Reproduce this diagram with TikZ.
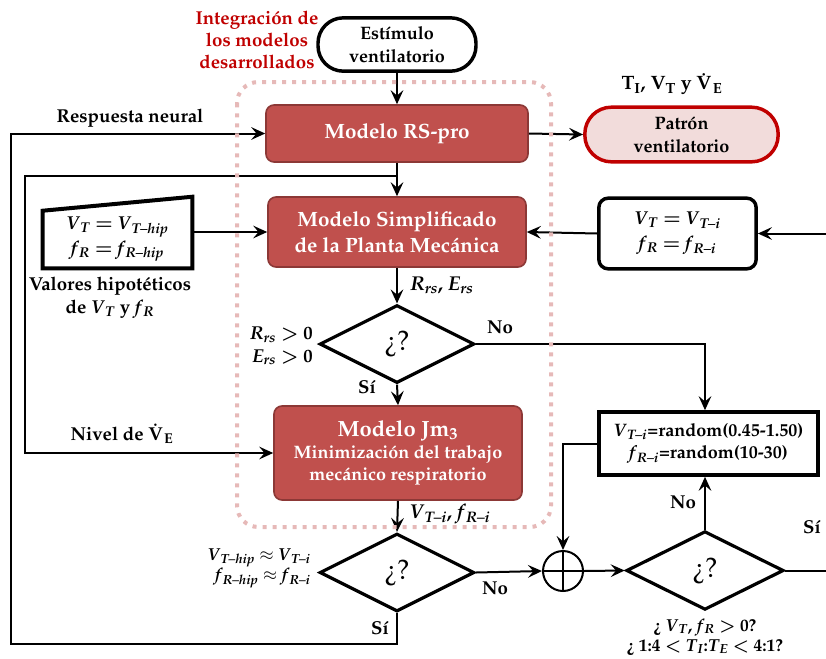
\documentclass[tikz,border=0pt]{standalone}
\usepackage[T1]{fontenc}
\usepackage{mathpazo}
\usetikzlibrary{arrows.meta,shapes.geometric,calc}
\definecolor{modelfill}{HTML}{C0504D}
\definecolor{modeledge}{HTML}{8C3836}
\definecolor{darkred}{HTML}{C00000}
\definecolor{palered}{HTML}{F2DCDB}
\definecolor{framepink}{HTML}{E6B9B8}
% italic variable with italic subscript
\newcommand{\ivar}[2]{\textit{#1}\textsubscript{\textit{#2}}}
\newcommand{\mns}{\textendash}
% flow-rate symbol (dotted V) with subscript
\newcommand{\vdotsub}[1]{\.{V}\kern1pt\textsubscript{#1}}
\tikzset{
  model/.style={rectangle, rounded corners=6pt, fill=modelfill, draw=modeledge,
    line width=1.2pt, text=white, align=center, inner sep=0pt,
    font=\bfseries\boldmath\fontsize{15.5}{19.5}\selectfont},
  terminal/.style={rectangle, rounded corners=19pt, draw=black, line width=2.6pt,
    align=center, inner sep=0pt, font=\bfseries\fontsize{13.5}{17.5}\selectfont},
  valbox/.style={rectangle, draw=black, align=center, inner sep=0pt,
    font=\bfseries\boldmath\fontsize{14}{18.5}\selectfont},
  decision/.style={diamond, aspect=2, draw, line width=2.4pt, inner sep=0pt,
    minimum width=116pt, minimum height=58.5pt, font=\fontsize{21}{24}\selectfont},
  conn/.style={line width=1.5pt, -{Stealth[length=10.5pt,width=9.5pt,inset=4pt]}},
  wire/.style={line width=1.5pt},
  lbl/.style={font=\bfseries\boldmath\fontsize{14}{17}\selectfont, align=center, inner sep=0pt},
  smalllbl/.style={font=\bfseries\boldmath\fontsize{13}{15}\selectfont, align=center, inner sep=0pt},
}
\begin{document}
\begin{tikzpicture}[x=0.75pt, y=-0.75pt]
\useasboundingbox (0,0) rectangle (826,658);

% ---- blocks ----
\node[terminal, minimum width=118.5pt, minimum height=40pt] (estim) at (397,44.5)
  {Est\'{\i}mulo\\ventilatorio};
\node[model, minimum width=196.5pt, minimum height=42.75pt] (rspro) at (397,133.5)
  {Modelo RS-pro};
\node[terminal, draw=darkred, fill=palered, minimum width=145pt, minimum height=41pt,
  rounded corners=20pt] (patron) at (681.5,134.5) {Patr\'on\\ventilatorio};
\node[model, minimum width=193.5pt, minimum height=52.5pt] (sm) at (397,232)
  {Modelo Simplificado\\de la Planta Mec\'anica};
\node[valbox, draw=none, minimum width=112pt, minimum height=42.75pt] (hip) at (117.5,239.5)
  {\ivar{V}{T} $=$ \ivar{V}{T\mns hip}\\\ivar{f}{R} $=$ \ivar{f}{R\mns hip}};
\node[valbox, line width=2.6pt, rounded corners=7pt, minimum width=118pt, minimum height=53pt]
  (vti) at (677.5,233.5) {\ivar{V}{T} $=$ \ivar{V}{T\mns i}\\\ivar{f}{R} $=$ \ivar{f}{R\mns i}};
\node[decision] (d1) at (397,344) {\textquestiondown?};
\node[model, minimum width=186pt, minimum height=70.5pt,
  font=\bfseries\boldmath\fontsize{13.5}{16.5}\selectfont] (jm3) at (398,453)
  {{\fontsize{16.5}{19}\selectfont Modelo Jm$_3$}\\Minimizaci\'on del trabajo\\mec\'anico respiratorio};
\node[decision] (d2) at (397,572.5) {\textquestiondown?};
\node[circle, draw, line width=1.5pt, minimum size=30pt, inner sep=0pt] (sum) at (563,571) {};
\node[valbox, line width=3pt, minimum width=164pt, minimum height=47pt,
  font=\bfseries\boldmath\fontsize{13.5}{17}\selectfont] (rand) at (708.5,443.5)
  {\ivar{V}{T\mns i}=random(0.45-1.50)\\\ivar{f}{R\mns i}=random(10-30)};
\node[decision, minimum width=118pt, minimum height=59pt] (d3) at (705,570.5) {\textquestiondown?};

% manual-input outline around the hypothetical values
\draw[line width=3pt, line join=miter]
  (hip.south west) -- (hip.north west) -- ([yshift=10.5pt]hip.north east)
  -- (hip.south east) -- cycle;

% summing junction cross
\draw[line width=1.5pt] (sum.north) -- (sum.south) (sum.west) -- (sum.east);

% ---- free ends and bends ----
\coordinate (loopA) at (11,644);
\coordinate (br1) at (397,176);
\coordinate (loopB) at (25,176);
\coordinate (rin) at (826,233.5);
\coordinate (rout) at (826,570.5);

% ---- connectors ----
\draw[conn] (estim.south) -- (rspro.north);
\draw[conn] (rspro.east) -- (patron.west);
\draw[conn] (rspro.south) -- (sm.north);
\draw[conn] (d2.south) |- (loopA) |- (rspro.west);
\draw[conn] (br1) -- (loopB) |- (jm3.west);
\draw[conn] (hip.east |- sm.west) -- (sm.west);
\draw[conn] (vti.west) -- (sm.east);
\draw[conn] (rin) -- (vti.east);
\draw[conn] (sm.south) -- (d1.north);
\draw[conn] (d1.east) -| (d3.north |- rand.north);
\draw[conn] (d1.south) -- (jm3.north);
\draw[conn] (jm3.south) -- (d2.north);
\draw[conn] (d2.east) -- (sum.west);
\draw[conn] (rand.west) -| (sum.north);
\draw[conn] (sum.east) -- (d3.west);
\draw[conn] (d3.north) -- (d3.north |- rand.south);
\draw[wire] (d3.east) -- (rout);

% ---- group frame ----
\draw[framepink, line width=3pt, dash pattern=on 3pt off 4.5pt, rounded corners=16pt]
  (237,82) rectangle (551,527);

% ---- labels ----
\node[lbl, text=darkred, font=\bfseries\fontsize{14}{16.5}\selectfont] (tgroup) at (257,40)
  {Integraci\'on de\\los modelos\\desarrollados};
\node[lbl, font=\bfseries\fontsize{14.5}{16.5}\selectfont] (tout) at (672,84)
  {T\textsubscript{I}, V\textsubscript{T} y \vdotsub{E}};
\node[lbl] (tneural) at (130,118) {Respuesta neural};
\node[lbl] (tnivel) at (122,434) {Nivel de \vdotsub{E}};
\node[lbl] (thip) at (110,298) {Valores hipot\'eticos\\de \ivar{V}{T} y \ivar{f}{R}};
\node[lbl, font=\bfseries\fontsize{15}{17}\selectfont] (trs) at (442,285) {\ivar{R}{rs}, \ivar{E}{rs}};
\node[lbl, align=right, anchor=east] (tc1) at (313,346) {\ivar{R}{rs} $>$ 0\\\ivar{E}{rs} $>$ 0};
\node[lbl] (tno1) at (500,327) {No};
\node[lbl] (tsi1) at (367,387) {S\'{\i}};
\node[lbl, font=\bfseries\fontsize{15}{17}\selectfont] (tvti) at (450,514) {\ivar{V}{T\mns i}, \ivar{f}{R\mns i}};
\node[lbl, align=right, anchor=east, font=\bfseries\fontsize{13}{15.5}\selectfont] (tc2) at (311,568)
  {\ivar{V}{T\mns hip} $\approx$ \ivar{V}{T\mns i}\\\ivar{f}{R\mns hip} $\approx$ \ivar{f}{R\mns i}};
\node[lbl] (tno2) at (495,588) {No};
\node[lbl] (tsi2) at (380,628) {S\'{\i}};
\node[lbl] (tno3) at (683,502) {No};
\node[lbl] (tsi3) at (812,527) {S\'{\i}};
\node[smalllbl] (tc3) at (705,637)
  {\textquestiondown\ \ivar{V}{T}, \ivar{f}{R} $>$ 0?\\\textquestiondown\ 1:4 $<$ \ivar{T}{I}:\ivar{T}{E} $<$ 4:1?};
\end{tikzpicture}
\end{document}
